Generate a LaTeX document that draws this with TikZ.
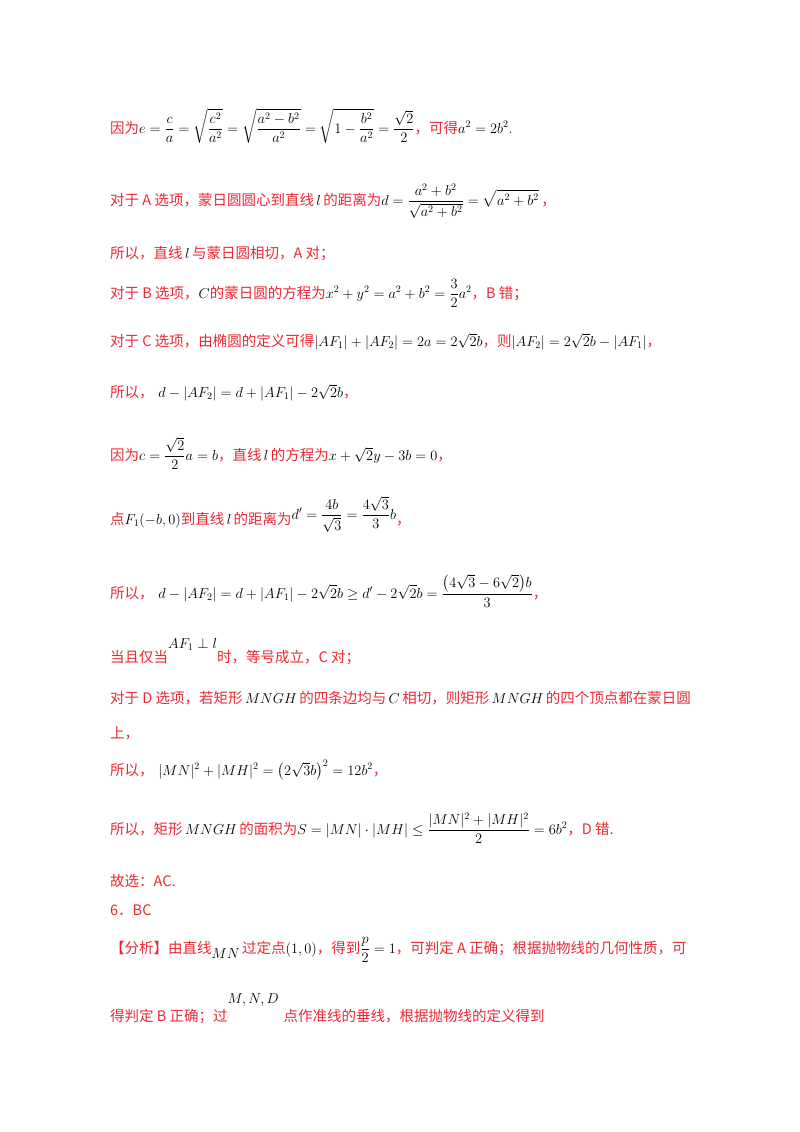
\documentclass[tikz,border=0pt]{standalone}
\usepackage{amsmath}
\usepackage{fontspec}
\newfontfamily\cjk{Noto Sans CJK SC}
\definecolor{hred}{RGB}{235,40,50}
\newcommand{\R}[1]{{\cjk\color{hred}#1}}
\begin{document}
\begin{tikzpicture}[x=1pt,y=-1pt,
  ln/.style={anchor=base west,inner sep=0pt,font=\fontsize{14.5}{17}\selectfont}]
\useasboundingbox (0,0) rectangle (800,1132);
\node[ln] (l1) at (110,133) {\R{因为}$\displaystyle e=\frac{c}{a}=\sqrt{\frac{c^2}{a^2}}=\sqrt{\frac{a^2-b^2}{a^2}}=\sqrt{1-\frac{b^2}{a^2}}=\frac{\sqrt2}{2}$\R{，可得}$a^2=2b^2$.};
\node[ln] (l2) at (110,205) {\R{对于 A 选项，蒙日圆圆心到直线}$\,l\,$\R{的距离为}$\displaystyle d=\frac{a^2+b^2}{\sqrt{a^2+b^2}}=\sqrt{a^2+b^2}$\,\R{，}};
\node[ln] (l3) at (110,258) {\R{所以，直线}$\,l\,$\R{与蒙日圆相切，A 对；}};
\node[ln] (l4) at (110,298) {\R{对于 B 选项，}$C$\R{的蒙日圆的方程为}$\displaystyle x^2+y^2=a^2+b^2=\frac32a^2$\R{，B 错；}};
\node[ln] (l5) at (110,346) {\R{对于 C 选项，由椭圆的定义可得}$|AF_1|+|AF_2|=2a=2\sqrt2b$\R{，则}$|AF_2|=2\sqrt2b-|AF_1|$\R{，}};
\node[ln] (l6) at (110,397) {\R{所以，}\ $d-|AF_2|=d+|AF_1|-2\sqrt2b$\R{，}};
\node[ln] (l7) at (110,460) {\R{因为}$\displaystyle c=\frac{\sqrt2}{2}a=b$\R{，直线}$\,l\,$\R{的方程为}$x+\sqrt2y-3b=0$\R{，}};
\node[ln] (l8) at (110,524) {\R{点}$F_1(-b,0)$\R{到直线}$\,l\,$\R{的距离为}\raisebox{5pt}{$\displaystyle d'=\frac{4b}{\sqrt3}=\frac{4\sqrt3}{3}b$}\R{，}};
\node[ln] (l9) at (110,598) {\R{所以，}\ $\displaystyle d-|AF_2|=d+|AF_1|-2\sqrt2b\ge d'-2\sqrt2b=\frac{\bigl(4\sqrt3-6\sqrt2\bigr)b}{3}$\R{，}};
\node[ln] (l10) at (110,662) {\R{当且仅当}\raisebox{14pt}{$AF_1\perp l$}\R{时，等号成立，C 对；}};
\node[ln] (l11) at (110,703) {\R{对于 D 选项，若矩形}$\,MNGH\,$\R{的四条边均与}$\,C\,$\R{相切，则矩形}$\,MNGH\,$\R{的四个顶点都在蒙日圆}};
\node[ln] (l11b) at (110,738) {\R{上，}};
\node[ln] (l12) at (110,775) {\R{所以，}\ $|MN|^2+|MH|^2=\bigl(2\sqrt3b\bigr)^2=12b^2$\R{，}};
\node[ln] (l13) at (110,834) {\R{所以，矩形}$\,MNGH\,$\R{的面积为}$\displaystyle S=|MN|\cdot|MH|\le\frac{|MN|^2+|MH|^2}{2}=6b^2$\R{，D 错.}};
\node[ln] (l14) at (110,886) {\R{故选：AC.}};
\node[ln] (l15) at (110,915) {\R{6．BC}};
\node[ln] (l16) at (110,953) {\R{【分析】由直线}\raisebox{-5pt}{$MN$}\,\R{过定点}$(1,0)$\R{，得到}$\displaystyle\frac p2=1$\R{，可判定 A 正确；根据抛物线的几何性质，可}};
\node[ln] (l17) at (110,1021) {\R{得判定 B 正确；过}\raisebox{18pt}{$M,N,D$}\ \R{点作准线的垂线，根据抛物线的定义得到}};
\end{tikzpicture}
\end{document}
